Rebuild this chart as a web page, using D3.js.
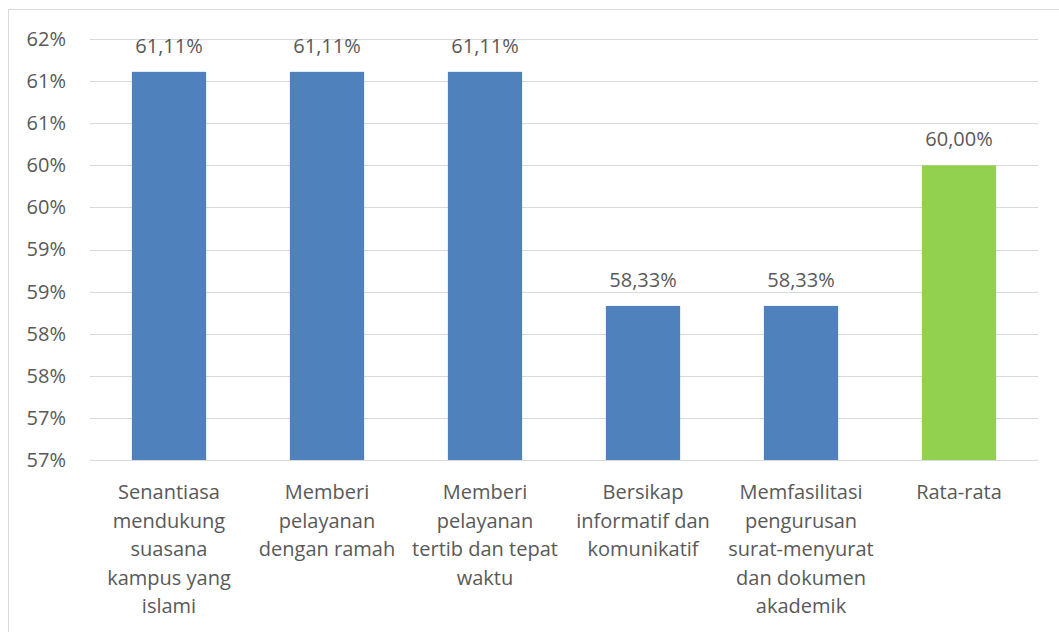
<!DOCTYPE html>
<html lang="id">
<head>
    <meta charset="UTF-8"/>
    <title>Grafik Pelayanan</title>
    <script src="https://d3js.org/d3.v7.min.js"></script>
    <style>
        body { margin: 0; background: #fff; }
        svg text { font-family: "Open Sans", sans-serif; fill: #595959; }
    </style>
</head>
<body>
    <div id="chart"></div>

    <script>
        // data
        var categories = [
            ["Senantiasa", "mendukung", "suasana", "kampus yang", "islami"],
            ["Memberi", "pelayanan", "dengan ramah"],
            ["Memberi", "pelayanan", "tertib dan tepat", "waktu"],
            ["Bersikap", "informatif dan", "komunikatif"],
            ["Memfasilitasi", "pengurusan", "surat-menyurat", "dan dokumen", "akademik"],
            ["Rata-rata"]
        ];
        var values = [61.11, 61.11, 61.11, 58.33, 58.33, 60.00];
        var barColors = ["#4F81BD", "#4F81BD", "#4F81BD", "#4F81BD", "#4F81BD", "#92D050"];
        var yTicks = [56.5, 57, 57.5, 58, 58.5, 59, 59.5, 60, 60.5, 61, 61.5];

        var w = 1059;
        var h = 632;
        var plotLeft = 90, plotRight = 1038, plotTop = 39, plotBottom = 460;

        var svg = d3.select("#chart")
                    .append("svg")
                    .attr("width", w)
                    .attr("height", h);

        // chart frame
        svg.append("rect")
           .attr("x", 8.5)
           .attr("y", 9.5)
           .attr("width", w)
           .attr("height", h)
           .attr("fill", "none")
           .attr("stroke", "#d9d9d9");

        var xScale = d3.scaleBand()
                       .domain(d3.range(categories.length))
                       .range([plotLeft, plotRight])
                       .paddingInner(0.53)
                       .paddingOuter(0.265);

        var yScale = d3.scaleLinear()
                       .domain([yTicks[0], yTicks[yTicks.length - 1]])
                       .range([plotBottom, plotTop]);

        // gridlines
        svg.append("g")
           .selectAll("line")
           .data(yTicks)
           .enter()
           .append("line")
           .attr("x1", plotLeft)
           .attr("x2", plotRight)
           .attr("y1", function(d) { return Math.round(yScale(d)) + 0.5; })
           .attr("y2", function(d) { return Math.round(yScale(d)) + 0.5; })
           .attr("stroke", "#d9d9d9")
           .attr("stroke-width", 1);

        // y axis labels
        var yAxis = d3.axisLeft(yScale)
                      .tickValues(yTicks)
                      .tickSize(0)
                      .tickPadding(0)
                      .tickFormat(function(d) { return Math.round(d) + "%"; });
        var yG = svg.append("g")
           .attr("transform", "translate(66,0)")
           .call(yAxis);
        yG.select(".domain").remove();
        yG.selectAll("text")
          .attr("font-size", "20px")
          .attr("font-family", "Open Sans, sans-serif")
          .attr("fill", "#595959");

        // bars
        svg.selectAll("rect.bar")
           .data(values)
           .enter()
           .append("rect")
           .attr("class", "bar")
           .attr("x", function(d, i) { return xScale(i); })
           .attr("y", function(d) { return yScale(d); })
           .attr("width", xScale.bandwidth())
           .attr("height", function(d) { return plotBottom - yScale(d); })
           .attr("fill", function(d, i) { return barColors[i]; });

        // value labels
        svg.selectAll("text.val")
           .data(values)
           .enter()
           .append("text")
           .attr("class", "val")
           .attr("x", function(d, i) { return xScale(i) + xScale.bandwidth() / 2; })
           .attr("y", function(d) { return yScale(d) - 19; })
           .attr("text-anchor", "middle")
           .attr("font-size", "20px")
           .text(function(d) { return d.toFixed(2).replace(".", ",") + "%"; });

        // category labels
        var catG = svg.selectAll("text.cat")
           .data(categories)
           .enter()
           .append("text")
           .attr("class", "cat")
           .attr("text-anchor", "middle")
           .attr("font-size", "20px");
        catG.selectAll("tspan")
            .data(function(d, i) { return d.map(function(s) { return { s: s, i: i }; }); })
            .enter()
            .append("tspan")
            .attr("x", function(d) { return xScale(d.i) + xScale.bandwidth() / 2; })
            .attr("y", function(d, j) { return 499 + j * 28.6; })
            .text(function(d) { return d.s; });
    </script>
</body>
</html>
